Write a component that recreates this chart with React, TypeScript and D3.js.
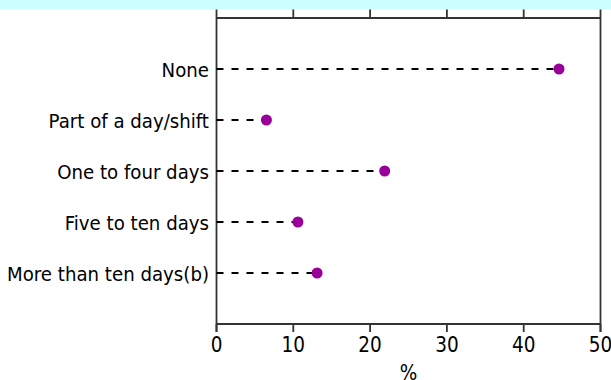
import React from "react";
import * as d3 from "d3";

const categories = ["None", "Part of a day/shift", "One to four days", "Five to ten days", "More than ten days(b)"];
const percents = [44.6, 6.5, 21.9, 10.6, 13.1];
const xTicks = [0, 10, 20, 30, 40, 50];

const W = 611;
const H = 380;
const FONT = "'DejaVu Sans Condensed', 'DejaVu Sans', sans-serif";
const AXIS = "#333";

const App = () => {
  const x = d3.scaleLinear().domain([0, 50]).range([216.5, 600.5]);
  const y = d3.scalePoint<string>().domain(categories).range([18, 324]).padding(1);
  const [top, bottom] = y.range();

  return (
    <svg width={W} height={H} style={{ position: "absolute", left: 0, top: 0, background: "#fff" }}>
      {/* ticks along the top, running up under the band */}
      {xTicks.map((t) => (
        <line key={"tt" + t} x1={x(t)} x2={x(t)} y1={top} y2={8} stroke={AXIS} strokeWidth={1.8} />
      ))}
      <rect x={0} y={0} width={W} height={9.5} fill="#ccffff" />

      {/* frame */}
      <line x1={x(0)} x2={x(50)} y1={top} y2={top} stroke={AXIS} strokeWidth={1.8} />
      <line x1={x(0)} x2={x(50)} y1={bottom} y2={bottom} stroke={AXIS} strokeWidth={1.8} />
      <line x1={x(0)} x2={x(0)} y1={top} y2={bottom + 8} stroke={AXIS} strokeWidth={1.8} />
      <line x1={x(50)} x2={x(50)} y1={top} y2={bottom + 8} stroke={AXIS} strokeWidth={1.8} />

      {/* bottom axis */}
      {xTicks.map((t) => (
        <g key={"bt" + t}>
          <line x1={x(t)} x2={x(t)} y1={bottom} y2={bottom + 8} stroke={AXIS} strokeWidth={1.8} />
          <text x={x(t)} y={352} textAnchor="middle" fontFamily={FONT} fontSize={20.5} fill="#000">
            {t}
          </text>
        </g>
      ))}
      <text x={(x(0) + x(50)) / 2} y={380} textAnchor="middle" fontFamily={FONT} fontSize={20.5} fill="#000">
        %
      </text>

      {/* categories */}
      {categories.map((c, i) => {
        const cy = y(c) as number;
        return (
          <g key={c}>
            <line x1={x(0)} x2={x(0) + 4} y1={cy} y2={cy} stroke={AXIS} strokeWidth={1.8} />
            <line
              x1={x(0)}
              x2={x(percents[i])}
              y1={cy}
              y2={cy}
              stroke="#000"
              strokeWidth={1.9}
              strokeDasharray="7,8"
            />
            <circle cx={x(percents[i])} cy={cy} r={5.5} fill="#990099" />
            <text x={209} y={cy + 7.5} textAnchor="end" fontFamily={FONT} fontSize={20.2} fill="#000">
              {c}
            </text>
          </g>
        );
      })}
    </svg>
  );
};

export default App;
